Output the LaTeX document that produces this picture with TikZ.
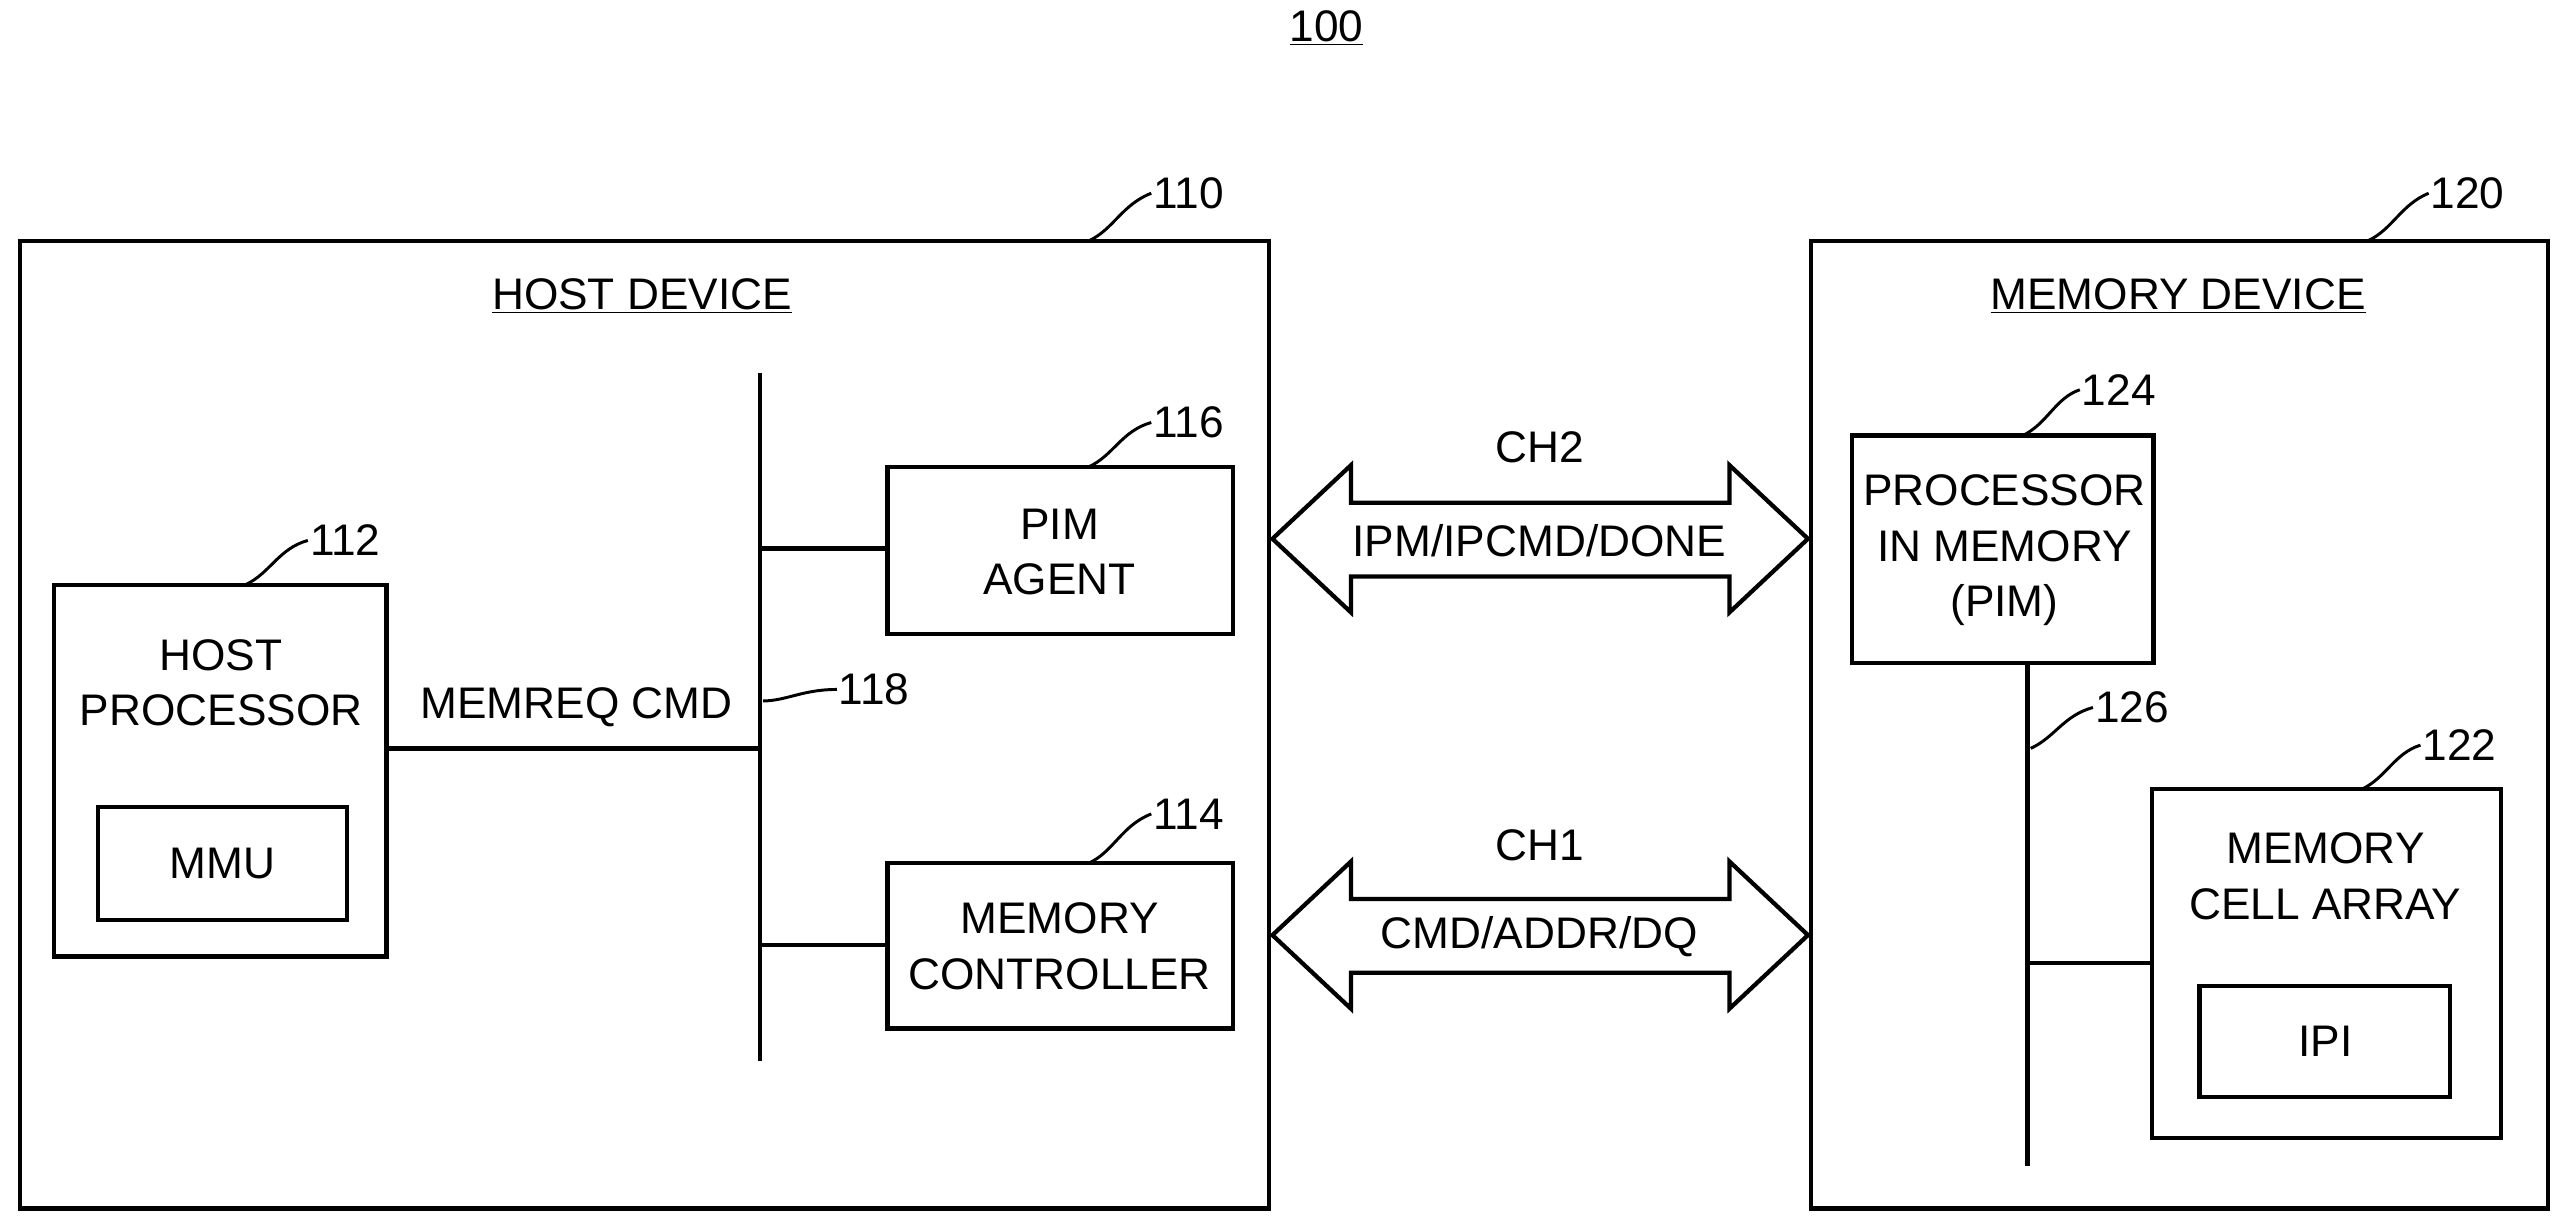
\documentclass[tikz,border=0pt]{standalone}
\usepackage{fontspec}
\setmainfont{Liberation Sans}
\begin{document}
\begin{tikzpicture}[x=1pt,y=-1pt,line width=2.6pt,
  box/.style={draw,inner sep=0pt},
  txt/.style={font=\fontsize{27}{34}\selectfont,align=center,inner sep=0pt},
  lead/.style={line width=1.8pt}]
\useasboundingbox (0,0) rectangle (1562,749);
\node[txt] (t100) at (810,17) {\underline{100}};
% host
\draw (12,147) rectangle (775,738);
\coordinate (h) at (665,147);
\node[txt,anchor=west] (l110) at (703,118) {110};
\draw[lead] (h) .. controls (680,140) and (685,125) .. (l110.west);
\node[txt] (hd) at (392,181) {\underline{HOST DEVICE}};
% memory device
\draw (1106,147) rectangle (1556,738);
\coordinate (m) at (1446,147);
\node[txt,anchor=west] (l120) at (1483,118) {120};
\draw[lead] (m) .. controls (1461,140) and (1466,125) .. (l120.west);
\node[txt] (md) at (1330,181) {\underline{MEMORY DEVICE}};
% host processor
\draw (33,357) rectangle (236,584);
\node[txt] (hp) at (135,417) {HOST\\PROCESSOR};
\draw (60,493) rectangle (212,562);
\node[txt] (mmu) at (136,527) {MMU};
\node[txt,anchor=west] (l112) at (188,330) {112};
\draw[lead] (150,357) .. controls (165,350) and (170,335) .. (l112.west);
% bus 118
\coordinate (b1) at (464,228); \coordinate (b2) at (464,648);
\draw (b1) -- (b2);
\draw (236,457) -- (464,457);
\node[txt] (mr) at (352,432) {MEMREQ CMD};
\node[txt,anchor=west] (l118) at (511,421) {118};
\draw[lead] (466,428) .. controls (480,428) and (490,421) .. (l118.west);
% PIM agent
\draw (542,285) rectangle (753,387);
\node[txt] (pa) at (647,337) {PIM\\AGENT};
\draw (464,335) -- (542,335);
\node[txt,anchor=west] (l116) at (703,258) {116};
\draw[lead] (665,285) .. controls (680,278) and (685,263) .. (l116.west);
% memory controller
\draw (542,527) rectangle (753,628);
\node[txt] (mc) at (647,578) {MEMORY\\CONTROLLER};
\draw (464,577) -- (542,577);
\node[txt,anchor=west] (l114) at (703,497) {114};
\draw[lead] (665,527) .. controls (680,520) and (685,504) .. (l114.west);
% CH2 arrow
\draw (777,329) -- (825,284) -- (825,307) -- (1056,307) -- (1056,284) -- (1104,329) -- (1056,374) -- (1056,352) -- (825,352) -- (825,374) -- cycle;
\node[txt] (ch2) at (940,273) {CH2};
\node[txt] (ipm) at (940,330) {IPM/IPCMD/DONE};
% CH1 arrow
\draw (777,571) -- (825,526) -- (825,549) -- (1056,549) -- (1056,526) -- (1104,571) -- (1056,616) -- (1056,594) -- (825,594) -- (825,616) -- cycle;
\node[txt] (ch1) at (940,516) {CH1};
\node[txt] (cad) at (940,572) {CMD/ADDR/DQ};
% PIM
\draw (1131,266) rectangle (1315,405);
\node[txt] (pim) at (1224,336) {PROCESSOR\\IN MEMORY\\(PIM)};
\node[txt,anchor=west] (l124) at (1270,238) {124};
\draw[lead] (1235,266) .. controls (1250,259) and (1255,243) .. (l124.west);
% bus 126
\draw (1238,405) -- (1238,712);
\node[txt,anchor=west] (l126) at (1278,432) {126};
\draw[lead] (1240,457) .. controls (1255,450) and (1260,437) .. (l126.west);
% memory cell array
\draw (1314,482) rectangle (1527,695);
\node[txt] (mca) at (1420,535) {MEMORY\\CELL ARRAY};
\draw (1238,588) -- (1314,588);
\draw (1343,602) rectangle (1496,670);
\node[txt] (ipi) at (1420,636) {IPI};
\node[txt,anchor=west] (l122) at (1478,455) {122};
\draw[lead] (1442,482) .. controls (1457,475) and (1462,460) .. (l122.west);
\end{tikzpicture}
\end{document}
